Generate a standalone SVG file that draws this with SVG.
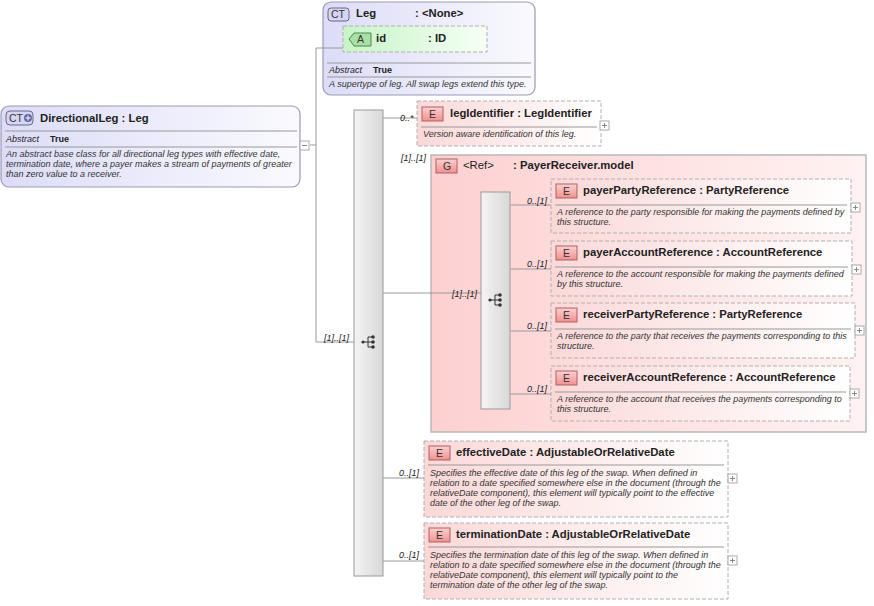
<svg xmlns="http://www.w3.org/2000/svg" width="874" height="606" viewBox="0 0 874 606">
<style>
text{font-family:"Liberation Sans",Arial,sans-serif;fill:#222}
.t{font-size:11.3px;font-weight:bold}
.d{font-size:9px;font-style:italic;fill:#333}
.m{font-size:9px;font-style:italic}
.k{font-size:9px;font-weight:bold}
.b{font-size:10.5px;fill:#333}
.ct{fill:url(#gct);stroke:#9a9ab5;stroke-width:1.2}
.el{fill:url(#gel);stroke:#b0b0b0;stroke-dasharray:4,2}
.eb{fill:url(#geb);stroke:#b06060}
.sep{stroke:#999;stroke-width:1}
.ln{stroke:#999;stroke-width:1;fill:none}
.seq{fill:url(#gseq);stroke:#999}
.pl{fill:#fff;stroke:#aaa}
</style>
<defs>
<linearGradient id="gct" x1="0" y1="0" x2="1" y2="0"><stop offset="0" stop-color="#dcdcf8"/><stop offset="1" stop-color="#fafafe"/></linearGradient>
<linearGradient id="gel" x1="0" y1="0" x2="1" y2="0"><stop offset="0" stop-color="#fbd8d8"/><stop offset="1" stop-color="#ffffff"/></linearGradient>
<linearGradient id="geb" x1="0" y1="0" x2="0" y2="1"><stop offset="0" stop-color="#fcd0d0"/><stop offset="1" stop-color="#f09090"/></linearGradient>
<linearGradient id="ggr" x1="0" y1="0" x2="1" y2="0"><stop offset="0" stop-color="#fdd0d0"/><stop offset="1" stop-color="#fff2f2"/></linearGradient>
<linearGradient id="gseq" x1="0" y1="0" x2="1" y2="0"><stop offset="0" stop-color="#f4f4f4"/><stop offset="1" stop-color="#d8d8d8"/></linearGradient>
<linearGradient id="gat" x1="0" y1="0" x2="1" y2="0"><stop offset="0" stop-color="#c8f4c8"/><stop offset="1" stop-color="#f6fff6"/></linearGradient>
<g id="seqicon"><circle cx="-6" cy="0" r="1.6" fill="#333"/><path d="M-5 0H-1M-1 -5V5M-1 -5H3M-1 0H3M-1 5H3" stroke="#333" fill="none"/><circle cx="4" cy="-5" r="1.8" fill="#333"/><circle cx="4" cy="0" r="1.8" fill="#333"/><circle cx="4" cy="5" r="1.8" fill="#333"/></g>
</defs>

<g id="DirectionalLeg">
<rect class="ct" x="1" y="106" width="299" height="81" rx="8"/>
<rect x="6" y="111" width="27" height="14" rx="4" fill="#d6d6f4" stroke="#66668a"/>
<text class="b" x="9" y="122">CT</text><circle cx="28" cy="118" r="4" fill="#6666aa"/><path d="M25.5 118H30.5M28 115.5V120.5" stroke="#fff"/>
<text class="t" x="40" y="122">DirectionalLeg : Leg</text>
<line class="sep" x1="5" y1="131" x2="297" y2="131"/>
<text class="m" x="6" y="142">Abstract</text><text class="k" x="50" y="142">True</text>
<line class="sep" x1="5" y1="147" x2="297" y2="147"/>
<text class="d" x="6" y="157">An abstract base class for all directional leg types with effective date,</text>
<text class="d" x="6" y="167">termination date, where a payer makes a stream of payments of greater</text>
<text class="d" x="6" y="177">than zero value to a receiver.</text>
<rect class="pl" x="300" y="141" width="9" height="9"/><path d="M302 145.5H307" stroke="#888"/>
</g>

<g id="Leg">
<rect class="ct" x="323" y="2" width="212" height="93" rx="8"/>
<rect x="328" y="8" width="21" height="13" rx="3" fill="#d6d6f4" stroke="#66668a"/>
<text class="b" x="331" y="18">CT</text>
<text class="t" x="356" y="17">Leg</text><text class="t" x="415" y="17">: &lt;None&gt;</text>
<g id="attr-id">
<rect x="343" y="26" width="144" height="26" fill="url(#gat)" stroke="#b0b0b0" stroke-dasharray="4,2"/>
<path d="M349 39L354 33H371V46H354Z" fill="#a8e0a8" stroke="#4a8a4a"/>
<text class="b" x="357" y="43">A</text>
<text class="t" x="376" y="42">id</text><text class="t" x="428" y="42">: ID</text>
</g>
<line class="sep" x1="327" y1="63" x2="531" y2="63"/>
<text class="m" x="329" y="73">Abstract</text><text class="k" x="373" y="73">True</text>
<line class="sep" x1="327" y1="77" x2="531" y2="77"/>
<text class="d" x="329" y="87">A supertype of leg. All swap legs extend this type.</text>
</g>

<g id="sequence">
<rect class="seq" x="354" y="110" width="29" height="466"/>
<use href="#seqicon" x="369" y="342"/>
</g>

<g id="legIdentifier">
<rect class="el" x="417" y="101" width="184" height="45"/>
<rect class="eb" x="422" y="107" width="21" height="14"/><text class="b" x="429" y="118">E</text>
<text class="t" x="450" y="117">legIdentifier : LegIdentifier</text>
<line class="sep" x1="421" y1="127" x2="597" y2="127"/>
<text class="d" x="423" y="137">Version aware identification of this leg.</text>
<rect class="pl" x="600" y="121" width="9" height="9"/><path d="M602 125.5H607M604.5 123V128" stroke="#888"/>
</g>

<g id="PayerReceiver">
<rect x="431" y="155" width="435" height="277" fill="url(#ggr)" stroke="#b8b8b8" stroke-width="1.5"/>
<rect class="eb" x="436" y="159" width="21" height="14"/><text class="b" x="443" y="170">G</text>
<text class="t" x="463" y="169" style="font-weight:normal">&lt;Ref&gt;</text><text class="t" x="513" y="169">: PayerReceiver.model</text>
<rect class="seq" x="481" y="192" width="29" height="217"/>
<use href="#seqicon" x="496" y="300"/>
</g>

<g id="payerPartyReference">
<rect class="el" x="551" y="179" width="300" height="54"/>
<rect class="eb" x="556" y="184" width="21" height="14"/><text class="b" x="563" y="195">E</text>
<text class="t" x="583" y="194">payerPartyReference : PartyReference</text>
<line class="sep" x1="555" y1="205" x2="847" y2="205"/>
<text class="d" x="557" y="215">A reference to the party responsible for making the payments defined by</text>
<text class="d" x="557" y="225">this structure.</text>
<rect class="pl" x="851" y="203" width="9" height="9"/><path d="M853 207.5H858M855.5 205V210" stroke="#888"/>
</g>
<g id="payerAccountReference">
<rect class="el" x="551" y="241" width="301" height="55"/>
<rect class="eb" x="556" y="246" width="21" height="14"/><text class="b" x="563" y="257">E</text>
<text class="t" x="583" y="256">payerAccountReference : AccountReference</text>
<line class="sep" x1="555" y1="267" x2="848" y2="267"/>
<text class="d" x="557" y="277">A reference to the account responsible for making the payments defined</text>
<text class="d" x="557" y="287">by this structure.</text>
<rect class="pl" x="852" y="265" width="9" height="9"/><path d="M854 269.5H859M856.5 267V272" stroke="#888"/>
</g>
<g id="receiverPartyReference">
<rect class="el" x="551" y="303" width="304" height="55"/>
<rect class="eb" x="556" y="308" width="21" height="14"/><text class="b" x="563" y="319">E</text>
<text class="t" x="583" y="318">receiverPartyReference : PartyReference</text>
<line class="sep" x1="555" y1="329" x2="851" y2="329"/>
<text class="d" x="557" y="339">A reference to the party that receives the payments corresponding to this</text>
<text class="d" x="557" y="349">structure.</text>
<rect class="pl" x="855" y="326" width="9" height="9"/><path d="M857 330.5H862M859.5 328V333" stroke="#888"/>
</g>
<g id="receiverAccountReference">
<rect class="el" x="551" y="366" width="299" height="55"/>
<rect class="eb" x="556" y="371" width="21" height="14"/><text class="b" x="563" y="382">E</text>
<text class="t" x="583" y="381">receiverAccountReference : AccountReference</text>
<line class="sep" x1="555" y1="392" x2="846" y2="392"/>
<text class="d" x="557" y="402">A reference to the account that receives the payments corresponding to</text>
<text class="d" x="557" y="412">this structure.</text>
<rect class="pl" x="850" y="389" width="9" height="9"/><path d="M852 393.5H857M854.5 391V396" stroke="#888"/>
</g>

<g id="effectiveDate">
<rect class="el" x="424" y="441" width="304" height="76"/>
<rect class="eb" x="429" y="446" width="21" height="14"/><text class="b" x="436" y="457">E</text>
<text class="t" x="456" y="456">effectiveDate : AdjustableOrRelativeDate</text>
<line class="sep" x1="428" y1="465" x2="724" y2="465"/>
<text class="d" x="430" y="476">Specifies the effective date of this leg of the swap. When defined in</text>
<text class="d" x="430" y="486">relation to a date specified somewhere else in the document (through the</text>
<text class="d" x="430" y="496">relativeDate component), this element will typically point to the effective</text>
<text class="d" x="430" y="506">date of the other leg of the swap.</text>
<rect class="pl" x="728" y="474" width="9" height="9"/><path d="M730 478.5H735M732.5 476V481" stroke="#888"/>
</g>
<g id="terminationDate">
<rect class="el" x="424" y="523" width="304" height="76"/>
<rect class="eb" x="429" y="528" width="21" height="14"/><text class="b" x="436" y="539">E</text>
<text class="t" x="456" y="538">terminationDate : AdjustableOrRelativeDate</text>
<line class="sep" x1="428" y1="547" x2="724" y2="547"/>
<text class="d" x="430" y="558">Specifies the termination date of this leg of the swap. When defined in</text>
<text class="d" x="430" y="568">relation to a date specified somewhere else in the document (through the</text>
<text class="d" x="430" y="578">relativeDate component), this element will typically point to the</text>
<text class="d" x="430" y="588">termination date of the other leg of the swap.</text>
<rect class="pl" x="728" y="556" width="9" height="9"/><path d="M730 560.5H735M732.5 558V563" stroke="#888"/>
</g>

<g id="connectors">
<path class="ln" d="M310 145H316M316 48V342H354M316 48H343"/>
<path class="ln" d="M383 118H417M383 293H481M383 478H424M383 561H424"/>
<path class="ln" d="M510 205H551M510 269H551M510 331H551M510 394H551"/>
<text class="m" x="400" y="121">0..*</text>
<text class="m" x="401" y="161">[1]..[1]</text>
<text class="m" x="324" y="341">[1]..[1]</text>
<text class="m" x="452" y="297">[1]..[1]</text>
<text class="m" x="399" y="476">0..[1]</text>
<text class="m" x="399" y="558">0..[1]</text>
<text class="m" x="527" y="204">0..[1]</text>
<text class="m" x="527" y="267">0..[1]</text>
<text class="m" x="527" y="329">0..[1]</text>
<text class="m" x="527" y="392">0..[1]</text>
</g>
</svg>
